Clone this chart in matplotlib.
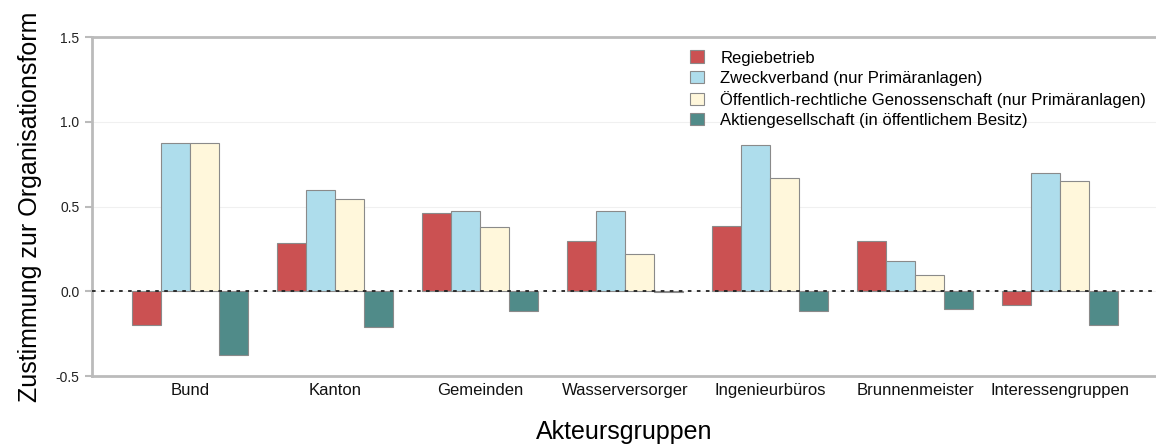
import numpy as np
from matplotlib import pyplot as plt

groups = ["Bund", "Kanton", "Gemeinden", "Wasserversorger", "Ingenieurbüros",
          "Brunnenmeister", "Interessengruppen"]

regiebetrieb = [-0.20, 0.283, 0.464, 0.299, 0.385, 0.295, -0.083]
zweckverband = [0.873, 0.596, 0.476, 0.472, 0.861, 0.181, 0.700]
genossenschaft = [0.873, 0.543, 0.382, 0.222, 0.668, 0.094, 0.649]
aktiengesellschaft = [-0.378, -0.212, -0.116, -0.005, -0.118, -0.106, -0.200]

series = [
    ("Regiebetrieb", regiebetrieb, "#CB5152"),
    ("Zweckverband (nur Primäranlagen)", zweckverband, "#AEDDEC"),
    ("Öffentlich-rechtliche Genossenschaft (nur Primäranlagen)", genossenschaft, "#FFF7DB"),
    ("Aktiengesellschaft (in öffentlichem Besitz)", aktiengesellschaft, "#508B89"),
]

plt.rcParams['font.family'] = ['Liberation Sans', 'DejaVu Sans']

fig = plt.figure(figsize=(11.56, 4.47), dpi=100)
ax = fig.add_axes([0.0796, 0.1588, 0.9204, 0.7584])

x = np.arange(len(groups))
width = 0.2
for i, (label, vals, color) in enumerate(series):
    ax.bar(x + (i - 1.5) * width, vals, width, color=color, edgecolor="#8a8a8a",
           linewidth=0.8, label=label, zorder=2)

ax.axhline(0, color="#222222", linestyle=(0, (2, 3)), linewidth=1.3, zorder=3)

ax.set_xlim(-0.676, 6.66)
ax.set_ylim(-0.5, 1.5)
ax.set_yticks([-0.5, 0.0, 0.5, 1.0, 1.5])
ax.set_yticklabels(["-0.5", "0.0", "0.5", "1.0", "1.5"])
ax.set_xticks(x)
ax.set_xticklabels(groups)
ax.yaxis.grid(True, color="#f0f0f0", linewidth=0.8, zorder=0)

ax.spines["right"].set_visible(False)
for side in ["left", "bottom", "top"]:
    ax.spines[side].set_color("#bbbbbb")
    ax.spines[side].set_linewidth(2)

ax.tick_params(axis="y", colors="#bbbbbb", labelcolor="#222222", labelsize=10,
               length=5, width=1.5, pad=4)
ax.tick_params(axis="x", length=0, labelsize=12, labelcolor="#111111", pad=5)

ax.set_ylabel("Zustimmung zur Organisationsform", fontsize=18, labelpad=10)
ax.set_xlabel("Akteursgruppen", fontsize=18, labelpad=16)

ax.legend(loc="upper left", bbox_to_anchor=(0.556, 0.98), frameon=False,
          fontsize=12, handlelength=0.8, handleheight=0.8, handletextpad=1.0,
          labelspacing=0.3, borderaxespad=0)

fig.savefig("out.png", dpi=100)
